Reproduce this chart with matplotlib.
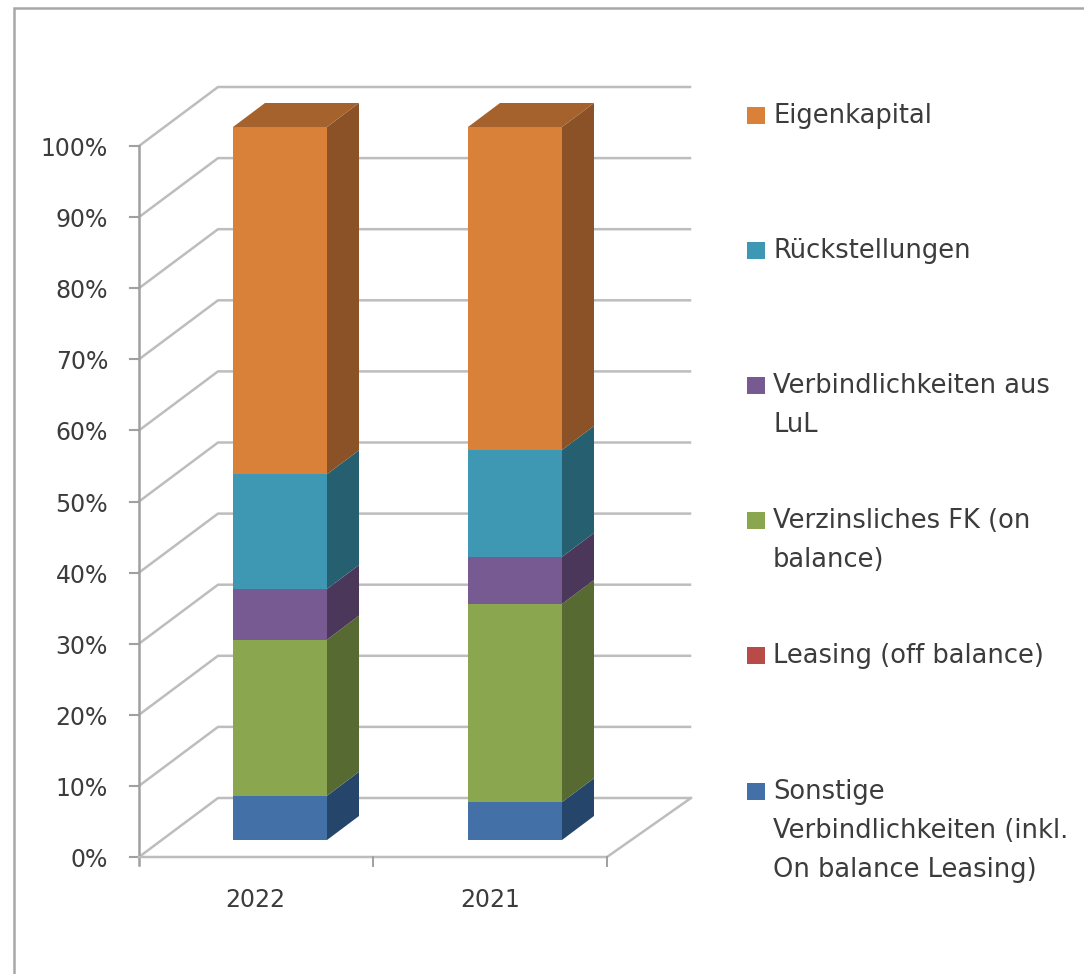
import matplotlib
matplotlib.use("Agg")
import matplotlib.pyplot as plt
from matplotlib.patches import Polygon, Rectangle

plt.rcParams['font.family'] = ['DejaVu Sans']

years = ["2022", "2021"]
series = ["Sonstige\nVerbindlichkeiten (inkl.\nOn balance Leasing)", "Leasing (off balance)",
          "Verzinsliches FK (on\nbalance)", "Verbindlichkeiten aus\nLuL", "Rückstellungen", "Eigenkapital"]
values_2022 = [6.2, 0, 21.9, 7.1, 16.1, 48.7]
values_2021 = [5.3, 0, 27.8, 6.6, 15.0, 45.3]
ticks = list(range(0, 101, 10))

front = ["#4470a8", "#b84b48", "#8aa64e", "#775a91", "#3f98b3", "#d98039"]
side = ["#26456b", "#70302e", "#566a31", "#4a3759", "#265f70", "#8a5226"]
top_color = "#a5622c"
legend_y = [792, 656, 521, 386, 251, 116]

fig = plt.figure(figsize=(10.84, 9.74), dpi=100)
ax = fig.add_axes([0, 0, 1, 1])
ax.set_xlim(0, 1084)
ax.set_ylim(974, 0)
ax.axis("off")

# depth of the fake 3d box
dx, dy = 79, -59
bdx, bdy = 32, -24
grid = "#bdbdbd"
axis_col = "#a0a0a0"
text_col = "#3c3c3c"
fs = 17
legend_fs = 18.5


def wall_y(v):
    return 857 - v * 7.11


def bar_y(v):
    return 840 - v * 7.13


ax.add_patch(Rectangle((14, 8), 1200, 1000, fc="white", ec="#a8a8a8", lw=1.8))

# gridlines on back wall and side wall
for t in ticks:
    y = wall_y(t)
    ax.plot([139, 139 + dx, 690], [y, y + dy, y + dy], color=grid, lw=1.8, zorder=1)
    ax.plot([130, 139], [y, y], color=axis_col, lw=1.5, zorder=1)
    ax.text(108, y + 3, f"{t}%", ha="right", va="center", fontsize=fs, color=text_col)
ax.plot([139, 139], [wall_y(0) + 8, wall_y(100)], color=axis_col, lw=1.8, zorder=1)
ax.plot([139, 607, 139 + dx + 473], [857, 857, 857 + dy], color=grid, lw=1.8, zorder=1)
for x in [373, 607]:
    ax.plot([x, x], [857, 866], color=axis_col, lw=1.4, zorder=1)

# stacked boxes
for x0, year, vals in [(233, years[0], values_2022), (468, years[1], values_2021)]:
    x1 = x0 + 94
    base = 0
    for i, v in enumerate(vals):
        y0 = bar_y(base)
        y1 = bar_y(base + v)
        if v > 0:
            ax.add_patch(Polygon([(x1, y0), (x1 + bdx, y0 + bdy), (x1 + bdx, y1 + bdy), (x1, y1)],
                                 fc=side[i], ec="none", zorder=3))
            ax.add_patch(Rectangle((x0, y1), 94, y0 - y1, fc=front[i], ec="none", zorder=4))
        base += v
    yt = bar_y(base)
    ax.add_patch(Polygon([(x0, yt), (x0 + bdx, yt + bdy), (x1 + bdx, yt + bdy), (x1, yt)],
                         fc=top_color, ec="none", zorder=3))
    ax.text(x0 + 22, 900, year, ha="center", va="center", fontsize=fs, color=text_col)

# legend
for i, name in enumerate(series):
    y = legend_y[i]
    ax.add_patch(Rectangle((747, y - 9), 18, 17, fc=front[i], ec="none"))
    for j, line in enumerate(name.split("\n")):
        ax.text(773, y + j * 39, line, ha="left", va="center", fontsize=legend_fs, color=text_col)

fig.savefig("out.png", dpi=100)
